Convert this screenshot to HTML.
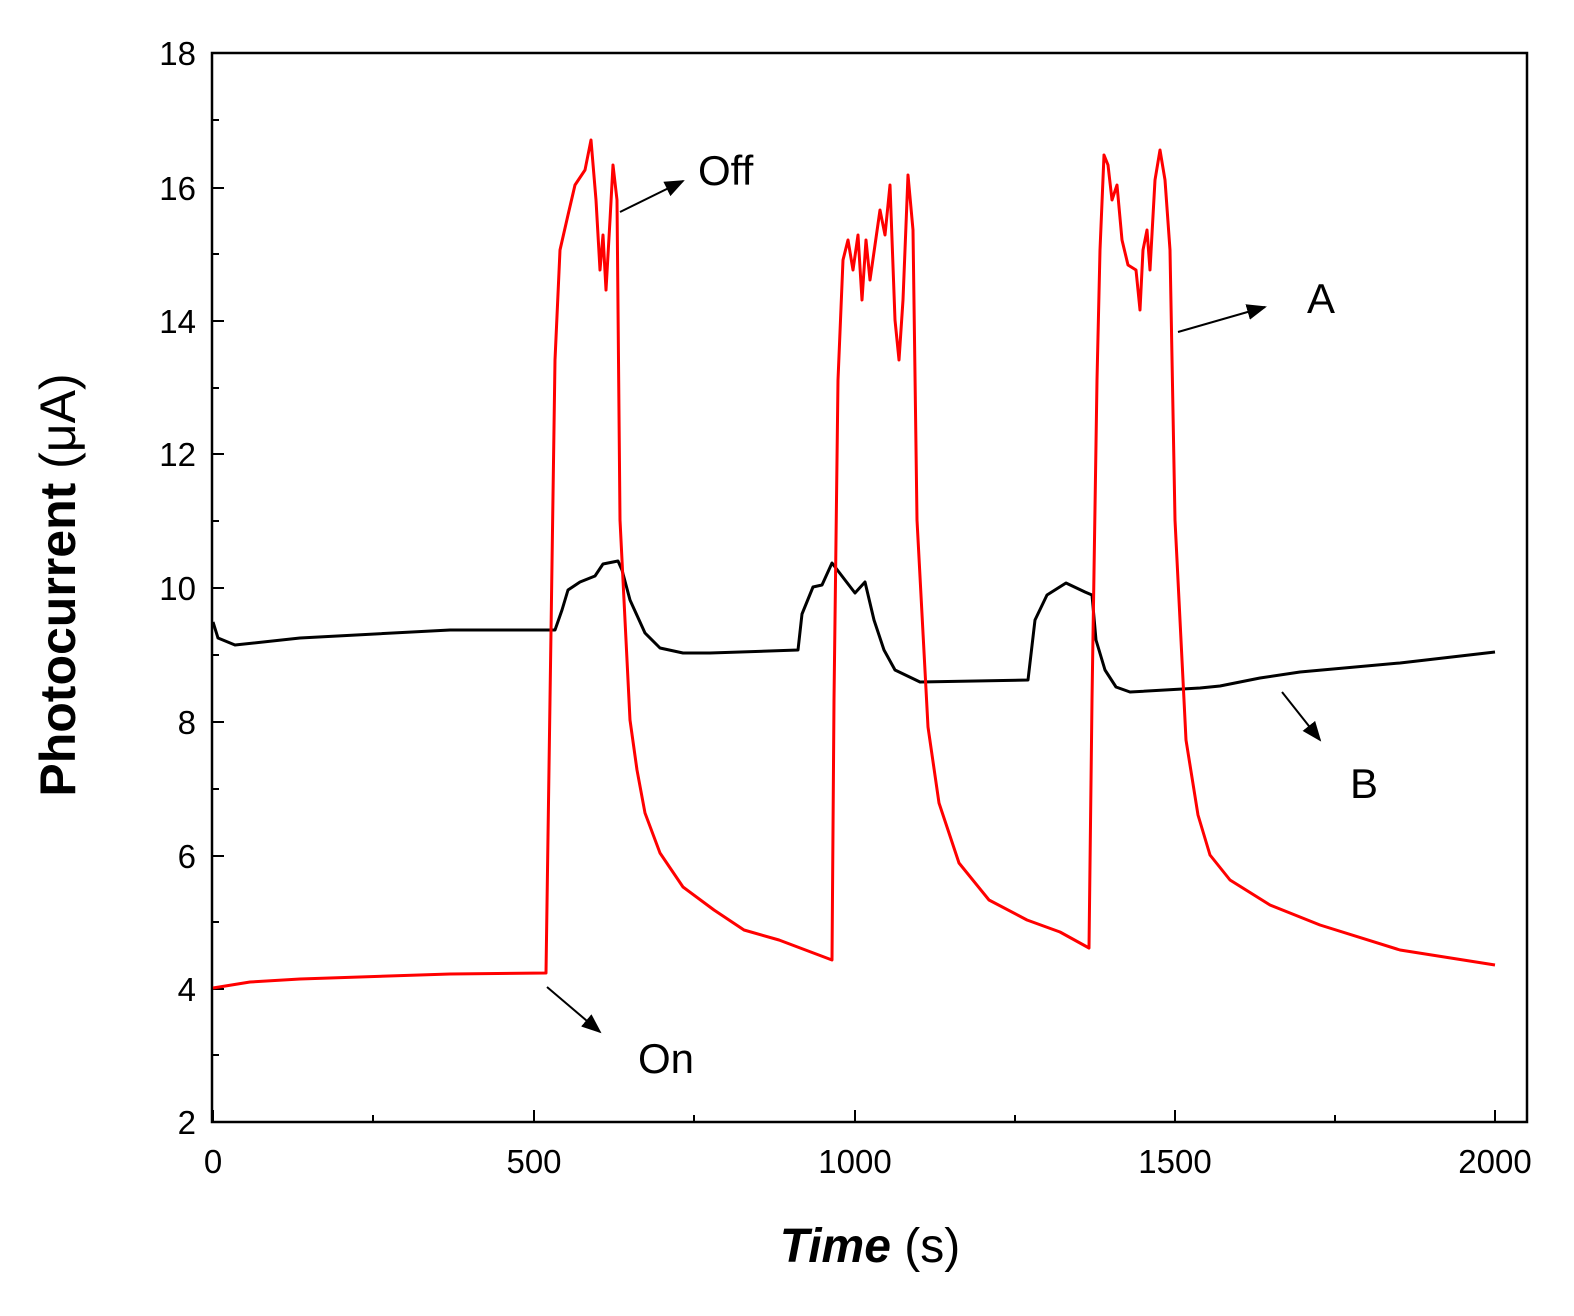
<!DOCTYPE html>
<html><head><style>
body{margin:0;background:#fff;}
svg text{font-family:"Liberation Sans",Arial,sans-serif;}
</style></head><body>
<svg width="1574" height="1311" viewBox="0 0 1574 1311" xmlns="http://www.w3.org/2000/svg">
<defs><marker id="ar" markerWidth="10" markerHeight="8" refX="9" refY="4" orient="auto"><path d="M0,0 L10,4 L0,8 Z" fill="#000"/></marker></defs>
<rect x="212" y="53" width="1315" height="1069" fill="none" stroke="#000" stroke-width="2.5"/>
<g stroke="#000" stroke-width="2">
<path d="M213,1122v-12M373,1122v-7M534,1122v-12M694,1122v-7M855,1122v-12M1015,1122v-7M1175,1122v-12M1335,1122v-7M1495,1122v-12"/>
<path d="M212,1122h12M212,1055h7M212,989h12M212,922h7M212,856h12M212,789h7M212,722h12M212,655h7M212,588h12M212,521h7M212,454h12M212,388h7M212,321h12M212,254h7M212,188h12M212,120h7M212,53h12"/>
</g>
<g font-size="33" text-anchor="end" fill="#000">
<text x="196" y="1134">2</text><text x="196" y="1001">4</text><text x="196" y="868">6</text><text x="196" y="734">8</text><text x="196" y="600">10</text><text x="196" y="466">12</text><text x="196" y="333">14</text><text x="196" y="200">16</text><text x="196" y="65">18</text>
</g>
<g font-size="33" text-anchor="middle">
<text x="213" y="1173">0</text><text x="534" y="1173">500</text><text x="855" y="1173">1000</text><text x="1175" y="1173">1500</text><text x="1495" y="1173">2000</text>
</g>
<text transform="translate(75,585) rotate(-90)" font-size="50" text-anchor="middle"><tspan font-weight="bold">Photocurrent</tspan> (μA)</text>
<text x="870" y="1262" font-size="48" text-anchor="middle"><tspan font-weight="bold" font-style="italic">Time</tspan> (s)</text>
<path fill="none" stroke="#000" stroke-width="3" stroke-linejoin="round" d="M213,622 L218,638 L235,645 L300,638 L450,630 L555,630 L562,610 L568,590 L580,582 L595,576 L603,564 L618,561 L622,570 L630,600 L645,633 L660,648 L683,653 L710,653 L798,650 L802,614 L813,587 L822,585 L832,563 L845,580 L855,593 L865,582 L874,620 L884,650 L895,670 L920,682 L1028,680 L1035,620 L1047,595 L1066,583 L1085,592 L1092,595 L1096,640 L1105,670 L1116,687 L1130,692 L1200,688 L1220,686 L1260,678 L1300,672 L1400,663 L1495,652"/>
<path fill="none" stroke="#f00" stroke-width="3" stroke-linejoin="round" d="M213,988 L250,982 L300,979 L450,974 L546,973 L550,700 L555,360 L560,250 L568,215 L575,185 L585,170 L591,140 L596,200 L600,270 L603,235 L606,290 L610,220 L613,165 L617,200 L620,520 L630,720 L637,770 L645,813 L660,853 L683,887 L714,910 L744,930 L779,940 L832,960 L834,700 L838,380 L843,260 L848,240 L853,270 L858,235 L862,300 L866,240 L870,280 L875,245 L880,210 L885,235 L890,185 L895,320 L899,360 L903,300 L908,175 L913,230 L917,520 L928,727 L939,803 L959,863 L989,900 L1027,920 L1060,932 L1089,948 L1092,700 L1097,380 L1100,250 L1104,155 L1108,165 L1112,200 L1117,185 L1122,240 L1128,265 L1136,270 L1140,310 L1143,250 L1147,230 L1150,270 L1155,180 L1160,150 L1165,180 L1170,250 L1175,520 L1186,740 L1198,815 L1210,855 L1230,880 L1270,905 L1320,925 L1400,950 L1495,965"/>
<g stroke="#000" stroke-width="2" marker-end="url(#ar)">
<line x1="620" y1="212" x2="683" y2="181"/>
<line x1="1178" y1="332" x2="1265" y2="307"/>
<line x1="1282" y1="692" x2="1320" y2="740"/>
<line x1="547" y1="987" x2="600" y2="1032"/>
</g>
<g font-size="42">
<text x="698" y="185">Off</text><text x="1307" y="313">A</text><text x="1350" y="798">B</text><text x="638" y="1073">On</text>
</g>
</svg>
</body></html>
